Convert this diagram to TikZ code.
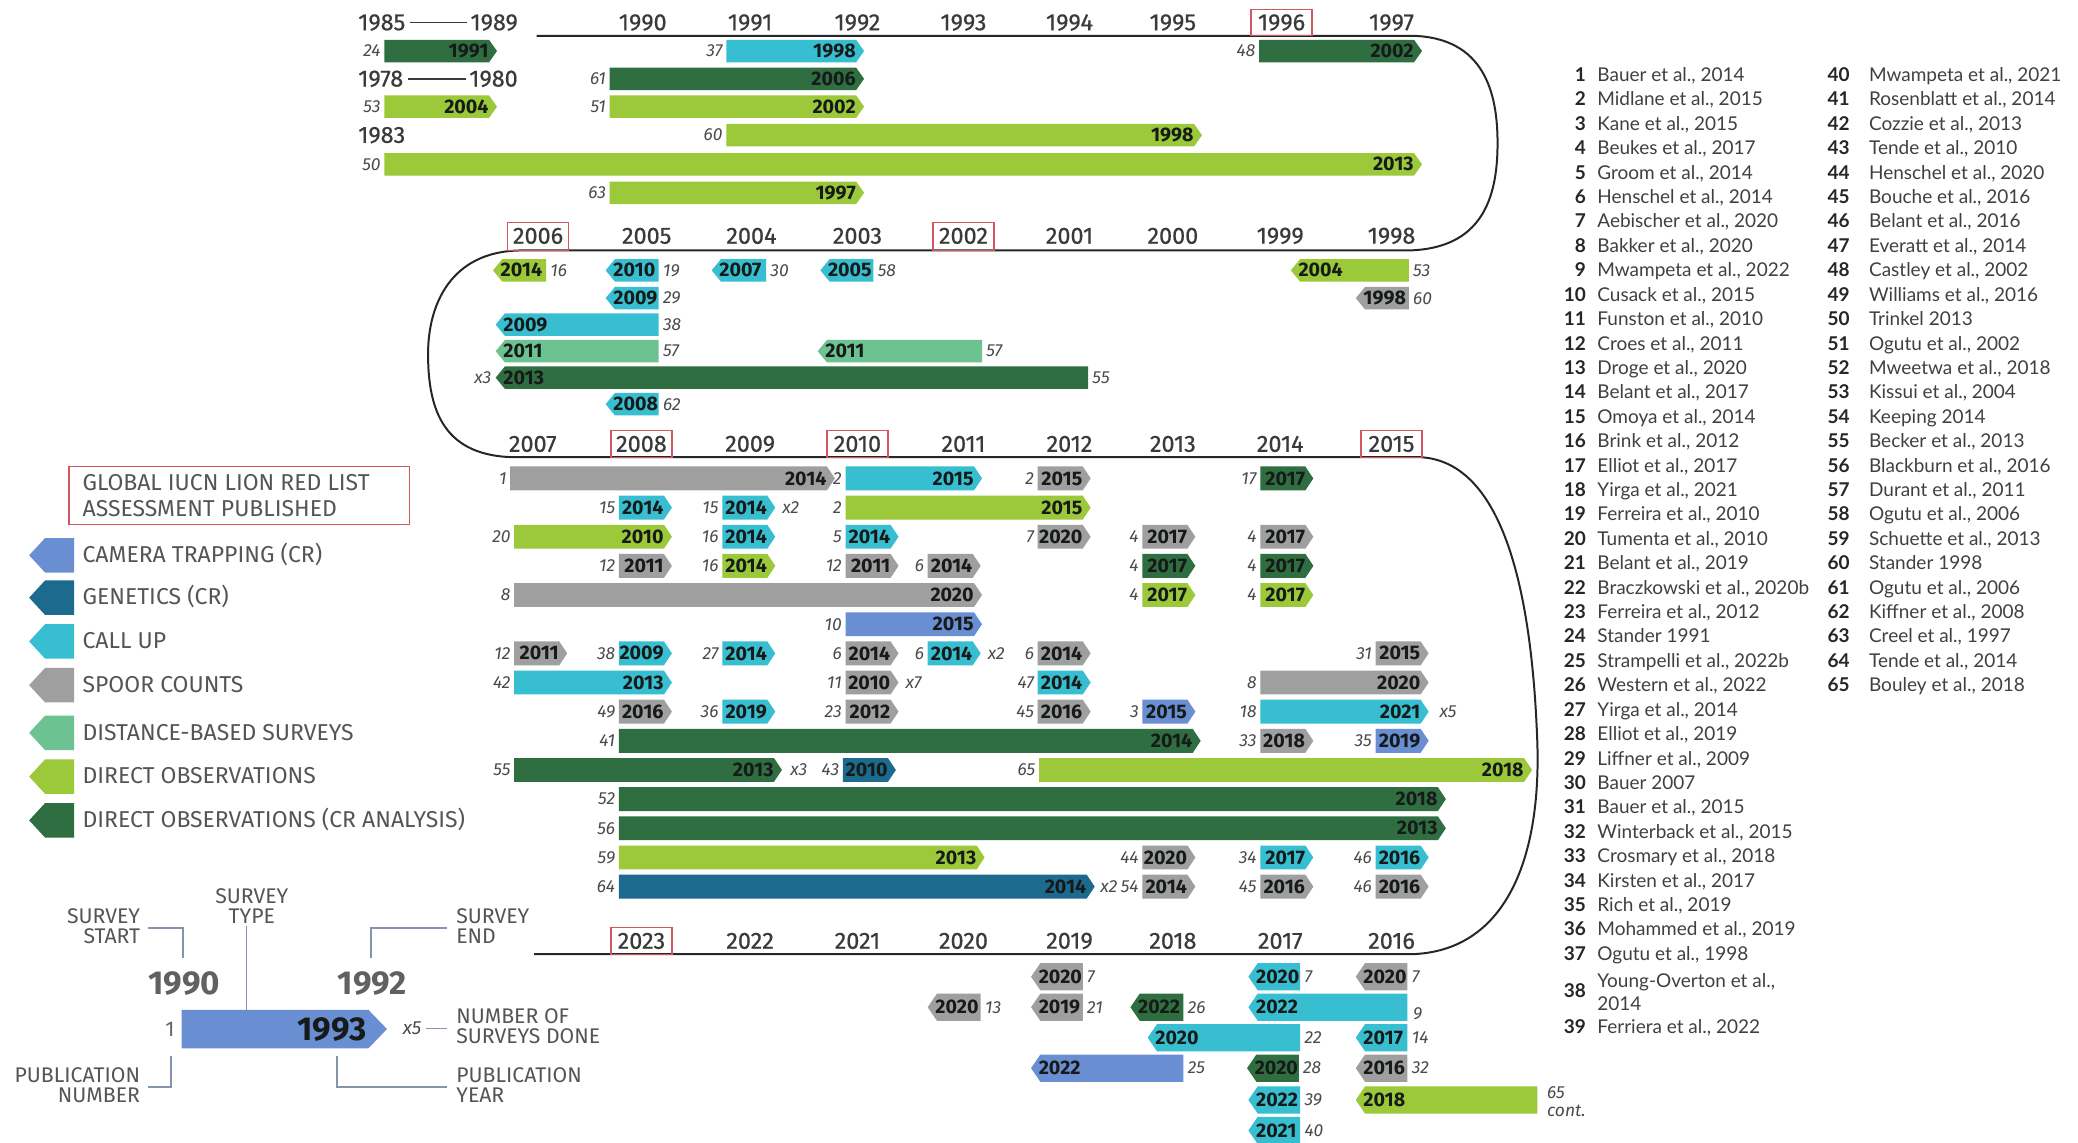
\documentclass[tikz,border=0pt]{standalone}
\usepackage{fontspec}
\setmainfont{Fira Sans}
\newfontfamily\axfont[FakeBold=0.6]{Fira Sans}
\newfontfamily\reffont{Lato}
\definecolor{camC}{HTML}{6A8ED2}
\definecolor{genC}{HTML}{1C6B8F}
\definecolor{callC}{HTML}{37BFD1}
\definecolor{spoorC}{HTML}{9F9F9F}
\definecolor{distC}{HTML}{6CC290}
\definecolor{dirC}{HTML}{9BC93A}
\definecolor{crC}{HTML}{2E6E40}
\definecolor{redC}{HTML}{D2555F}
\definecolor{axC}{HTML}{3A3A3A}
\definecolor{numC}{HTML}{4A4A4A}
\definecolor{legC}{HTML}{555555}
\definecolor{keyC}{HTML}{8494AD}
\definecolor{barT}{HTML}{161A18}
\newcounter{bc}
\def\bh{17}
\newcommand{\RB}[6]{%
  \stepcounter{bc}%
  \fill[#4] (#1,#3-\bh/2) -- (#2-6,#3-\bh/2) -- (#2,#3) -- (#2-6,#3+\bh/2) -- (#1,#3+\bh/2) -- cycle;
  \node[yr,anchor=east] (by\thebc) at (#2-6,#3) {#5};
  \node[num,anchor=east] (bn\thebc) at (#1-2.5,#3) {#6};
}
\newcommand{\LB}[6]{%
  \stepcounter{bc}%
  \fill[#4] (#1,#3) -- (#1+7,#3-\bh/2) -- (#2,#3-\bh/2) -- (#2,#3+\bh/2) -- (#1+7,#3+\bh/2) -- cycle;
  \node[yr,anchor=west] (by\thebc) at (#1+5.5,#3) {#5};
  \node[num,anchor=west] (bn\thebc) at (#2+3,#3) {#6};
}
\newcommand{\RF}[5]{%
  \pgfmathsetmacro{\ry}{57+#3*18.42+4.5}%
  \node[refn] (rn#4) at (#1,\ry) {#4};
  \node[reft] (rt#4) at (#2,\ry) {#5};
}
\tikzset{
 ax/.style={font=\axfont\fontsize{10.6pt}{11pt}\selectfont, text=axC, inner sep=0pt},
 yr/.style={font=\bfseries\fontsize{8.9pt}{9pt}\selectfont, text=barT, inner sep=0pt},
 num/.style={font=\itshape\fontsize{7.9pt}{9pt}\selectfont, text=numC, inner sep=0pt},
 leg/.style={font=\fontsize{10.4pt}{11pt}\selectfont, text=legC, inner sep=0pt, anchor=base west},
 keyt/.style={font=\fontsize{9.6pt}{9pt}\selectfont, text=legC, inner sep=0pt},
 keybig/.style={font=\bfseries\fontsize{15pt}{16pt}\selectfont, inner sep=0pt},
 refn/.style={font=\reffont\bfseries\fontsize{8.6pt}{9pt}\selectfont, text=black!85, inner sep=0pt, anchor=base east},
 reft/.style={font=\reffont\fontsize{8.6pt}{9pt}\selectfont, text=black!75, inner sep=0pt, anchor=base west},
 axisline/.style={line width=0.9pt, black!85},
 redbox/.style={draw=redC, line width=0.6pt},
 keyline/.style={draw=keyC, line width=0.8pt},
}
\begin{document}
\begin{tikzpicture}[x=0.6pt,y=-0.6pt]
\fill[white] (0,0) rectangle (1568,862);
\useasboundingbox (0,0) rectangle (1568,862);

% ---------- snake axis ----------
\draw[axisline] (405,27) -- (1065,27) .. controls (1120,28) and (1130,70) .. (1130,108)
  .. controls (1130,150) and (1118,188) .. (1062,189) -- (392,189)
  .. controls (340,190) and (323,230) .. (323,267) .. controls (323,310) and (335,345) .. (390,345)
  -- (1072,345) .. controls (1125,348) and (1155,420) .. (1160,560)
  .. controls (1163,650) and (1135,718) .. (1065,720) -- (403,720);

% ---------- axis years ----------
\foreach \yy/\xx in {1990/485,1991/566,1992/647,1993/727,1994/807,1995/885,1996/967,1997/1050}
  \node[ax] (a\yy) at (\xx,17) {\yy};
\foreach \yy/\xx in {2006/406,2005/488,2004/567,2003/647,2002/727,2001/807,2000/885,1999/966,1998/1050}
  \node[ax] (a\yy) at (\xx,178) {\yy};
\foreach \yy/\xx in {2007/402,2008/484,2009/566,2010/647,2011/727,2012/807,2013/885,2014/966,2015/1050}
  \node[ax] (a\yy) at (\xx,335) {\yy};
\foreach \yy/\xx in {2023/484,2022/566,2021/647,2020/727,2019/807,2018/885,2017/966,2016/1050}
  \node[ax] (a\yy) at (\xx,710) {\yy};
% red boxes (IUCN assessments)
\draw[redbox] (944,7) rectangle (990,27);
\draw[redbox] (383,168) rectangle (429,189);
\draw[redbox] (704,168) rectangle (750,189);
\draw[redbox] (461,325) rectangle (507,345);
\draw[redbox] (624,325) rectangle (670,345);
\draw[redbox] (1027,325) rectangle (1073,345);
\draw[redbox] (461,700) rectangle (507,720);

% left early years
\node[ax,anchor=west] (a1985) at (270,17) {1985};
\node[ax,anchor=east] (a1989) at (391,17) {1989};
\draw[line width=0.8pt, axC] ([xshift=2pt]a1985.east) -- ([xshift=-1.5pt]a1989.west);
\node[ax,anchor=west] (a1978) at (270,59.5) {1978};
\node[ax,anchor=east] (a1980) at (391,59.5) {1980};
\draw[line width=0.8pt, axC] ([xshift=2pt]a1978.east) -- ([xshift=-1.5pt]a1980.west);
\node[ax,anchor=west] (a1983) at (270,102) {1983};

% ---------- band 1 ----------
\def\bh{17}
\RB{290}{375}{38.5}{crC}{1991}{24}
\RB{548}{652}{38.5}{callC}{1998}{37}
\RB{950}{1073}{38.5}{crC}{2002}{48}
\RB{460}{652}{59.5}{crC}{2006}{61}
\RB{290}{375}{80.5}{dirC}{2004}{53}
\RB{460}{652}{80.5}{dirC}{2002}{51}
\RB{548}{907}{102}{dirC}{1998}{60}
\RB{290}{1073}{124}{dirC}{2013}{50}
\RB{460}{652}{145.5}{dirC}{1997}{63}

% ---------- band 2 ----------
\def\bh{17}
\LB{372}{412}{204}{dirC}{2014}{16}
\LB{457}{497}{204}{callC}{2010}{19}
\LB{537}{578}{204}{callC}{2007}{30}
\LB{619}{659}{204}{callC}{2005}{58}
\LB{974}{1063}{204}{dirC}{2004}{53}
\LB{457}{497}{225}{callC}{2009}{29}
\LB{1023}{1063}{225}{spoorC}{1998}{60}
\LB{374}{497}{245}{callC}{2009}{38}
\LB{374}{497}{265}{distC}{2011}{57}
\LB{617}{741}{265}{distC}{2011}{57}
\LB{374}{821}{285}{crC}{2013}{55}
\node[num,anchor=east] (x3a) at (371,285) {x3};
\LB{457}{497}{305}{callC}{2008}{62}

% ---------- band 3 ----------
\def\bh{18}
\RB{385}{630}{361}{spoorC}{2014}{1}
\RB{638}{741}{361}{callC}{2015}{2}
\RB{783}{823}{361}{spoorC}{2015}{2}
\RB{951}{991}{361}{crC}{2017}{17}
\RB{467}{507}{383}{callC}{2014}{15}
\RB{545}{585}{383}{callC}{2014}{15}
\node[num,anchor=west] (x2a) at (590,383) {x2};
\RB{638}{823}{383}{dirC}{2015}{2}
\RB{388}{507}{405}{dirC}{2010}{20}
\RB{545}{585}{405}{callC}{2014}{16}
\RB{638}{678}{405}{callC}{2014}{5}
\RB{783}{823}{405}{spoorC}{2020}{7}
\RB{862}{902}{405}{spoorC}{2017}{4}
\RB{951}{991}{405}{spoorC}{2017}{4}
\RB{467}{507}{427}{spoorC}{2011}{12}
\RB{545}{585}{427}{dirC}{2014}{16}
\RB{638}{678}{427}{spoorC}{2011}{12}
\RB{700}{740}{427}{spoorC}{2014}{6}
\RB{862}{902}{427}{crC}{2017}{4}
\RB{951}{991}{427}{crC}{2017}{4}
\RB{388}{741}{449}{spoorC}{2020}{8}
\RB{862}{902}{449}{dirC}{2017}{4}
\RB{951}{991}{449}{dirC}{2017}{4}
\RB{638}{741}{471}{camC}{2015}{10}
\RB{388}{428}{493}{spoorC}{2011}{12}
\RB{467}{507}{493}{callC}{2009}{38}
\RB{545}{585}{493}{callC}{2014}{27}
\RB{638}{678}{493}{spoorC}{2014}{6}
\RB{700}{740}{493}{callC}{2014}{6}
\node[num,anchor=west] (x2b) at (745,493) {x2};
\RB{783}{823}{493}{spoorC}{2014}{6}
\RB{1038}{1078}{493}{spoorC}{2015}{31}
\RB{388}{507}{515}{callC}{2013}{42}
\RB{638}{678}{515}{spoorC}{2010}{11}
\node[num,anchor=west] (x7a) at (683,515) {x7};
\RB{783}{823}{515}{callC}{2014}{47}
\RB{951}{1078}{515}{spoorC}{2020}{8}
\RB{467}{507}{537}{spoorC}{2016}{49}
\RB{545}{585}{537}{callC}{2019}{36}
\RB{638}{678}{537}{spoorC}{2012}{23}
\RB{783}{823}{537}{spoorC}{2016}{45}
\RB{862}{902}{537}{camC}{2015}{3}
\RB{951}{1078}{537}{callC}{2021}{18}
\node[num,anchor=west] (x5a) at (1086,537) {x5};
\RB{467}{906}{559}{crC}{2014}{41}
\RB{951}{991}{559}{spoorC}{2018}{33}
\RB{1038}{1078}{559}{camC}{2019}{35}
\RB{388}{590}{581}{crC}{2013}{55}
\node[num,anchor=west] (x3b) at (596,581) {x3};
\RB{636}{676}{581}{genC}{2010}{43}
\RB{784}{1156}{581}{dirC}{2018}{65}
\RB{467}{1091}{603}{crC}{2018}{52}
\RB{467}{1091}{625}{crC}{2013}{56}
\RB{467}{743}{647}{dirC}{2013}{59}
\RB{862}{902}{647}{spoorC}{2020}{44}
\RB{951}{991}{647}{callC}{2017}{34}
\RB{1038}{1078}{647}{callC}{2016}{46}
\RB{467}{826}{669}{genC}{2014}{64}
\node[num,anchor=west] (x2c) at (830,669) {x2};
\RB{862}{902}{669}{spoorC}{2014}{54}
\RB{951}{991}{669}{spoorC}{2016}{45}
\RB{1038}{1078}{669}{spoorC}{2016}{46}

% ---------- band 4 ----------
\def\bh{20.5}
\LB{778}{817}{737}{spoorC}{2020}{7}
\LB{942}{981}{737}{callC}{2020}{7}
\LB{1023}{1062}{737}{spoorC}{2020}{7}
\LB{700}{740}{760}{spoorC}{2020}{13}
\LB{778}{817}{760}{spoorC}{2019}{21}
\LB{853}{893}{760}{crC}{2022}{26}
\LB{942}{1062}{760}{callC}{2022}{}
\node[num,anchor=west] (n9) at (1066,765) {9};
\LB{866}{981}{783}{callC}{2020}{22}
\LB{1023}{1062}{783}{callC}{2017}{14}
\LB{778}{893}{806}{camC}{2022}{25}
\LB{941}{980}{806}{crC}{2020}{28}
\LB{1023}{1062}{806}{spoorC}{2016}{32}
\LB{942}{981}{830}{callC}{2022}{39}
\LB{1023}{1160}{830}{dirC}{2018}{}
\node[num,anchor=west,align=left,font=\itshape\fontsize{7.9pt}{8.2pt}\selectfont] (n65c) at (1167,831) {65\\cont.};
\LB{942}{981}{853}{callC}{2021}{40}

% ---------- legend ----------
\draw[redbox] (52,352) rectangle (309,396);
\node[leg] (lg0) at (62,370) {GLOBAL IUCN LION RED LIST};
\node[leg] (lg00) at (62,390) {ASSESSMENT PUBLISHED};
\foreach \yy/\cc/\tt [count=\i] in {419/camC/CAMERA TRAPPING (CR), 451/genC/GENETICS (CR), 484/callC/CALL UP, 517/spoorC/SPOOR COUNTS, 553/distC/DISTANCE-BASED SURVEYS, 586/dirC/DIRECT OBSERVATIONS, 619/crC/DIRECT OBSERVATIONS (CR ANALYSIS)}{
  \fill[\cc] (22,\yy) -- (34,\yy-13) -- (56,\yy-13) -- (56,\yy+13) -- (34,\yy+13) -- cycle;
  \node[leg] (lg\i) at (62,\yy+5.5) {\tt};
}

% ---------- key ----------
\node[keyt,align=right,anchor=east] (kss) at (106,699) {SURVEY\\START};
\node[keyt,align=center] (kst) at (190,684) {SURVEY\\TYPE};
\node[keyt,align=left,anchor=west] (kse) at (344,699) {SURVEY\\END};
\node[keyt,align=left,anchor=west] (kno) at (344,774) {NUMBER OF\\SURVEYS DONE};
\node[keyt,align=right,anchor=east] (kpn) at (106,819) {PUBLICATION\\NUMBER};
\node[keyt,align=left,anchor=west] (kpy) at (344,819) {PUBLICATION\\YEAR};
\node[keybig,text=black!62] (k1990) at (139,742) {1990};
\node[keybig,text=black!62] (k1992) at (281,742) {1992};
\fill[camC] (137,762) -- (278,762) -- (292,776.5) -- (278,791) -- (137,791) -- cycle;
\node[keybig,text=barT,anchor=east] (k1993) at (277,777) {1993};
\node[keyt,anchor=east,text=black!60] (k1) at (132,777) {1};
\node[num,font=\itshape\fontsize{8.6pt}{9pt}\selectfont] (kx5) at (311,776) {x5};
\coordinate (kbt) at (186,762);
\draw[keyline] (112,700) -- (138,700) -- (138,723);
\draw[keyline] (186,699) -- (kbt);
\draw[keyline] (337,700) -- (280,700) -- (280,723);
\draw[keyline] (kx5.east) ++(3,0) -- (337,776);
\draw[keyline] (112,820) -- (129,820) -- (129,797);
\draw[keyline] (254,797) -- (254,820) -- (337,820);

% ---------- references ----------
\RF{1197}{1205}{0}{1}{Bauer et al., 2014}
\RF{1197}{1205}{1}{2}{Midlane et al., 2015}
\RF{1197}{1205}{2}{3}{Kane et al., 2015}
\RF{1197}{1205}{3}{4}{Beukes et al., 2017}
\RF{1197}{1205}{4}{5}{Groom et al., 2014}
\RF{1197}{1205}{5}{6}{Henschel et al., 2014}
\RF{1197}{1205}{6}{7}{Aebischer et al., 2020}
\RF{1197}{1205}{7}{8}{Bakker et al., 2020}
\RF{1197}{1205}{8}{9}{Mwampeta et al., 2022}
\RF{1197}{1205}{9}{10}{Cusack et al., 2015}
\RF{1197}{1205}{10}{11}{Funston et al., 2010}
\RF{1197}{1205}{11}{12}{Croes et al., 2011}
\RF{1197}{1205}{12}{13}{Droge et al., 2020}
\RF{1197}{1205}{13}{14}{Belant et al., 2017}
\RF{1197}{1205}{14}{15}{Omoya et al., 2014}
\RF{1197}{1205}{15}{16}{Brink et al., 2012}
\RF{1197}{1205}{16}{17}{Elliot et al., 2017}
\RF{1197}{1205}{17}{18}{Yirga et al., 2021}
\RF{1197}{1205}{18}{19}{Ferreira et al., 2010}
\RF{1197}{1205}{19}{20}{Tumenta et al., 2010}
\RF{1197}{1205}{20}{21}{Belant et al., 2019}
\RF{1197}{1205}{21}{22}{Braczkowski et al., 2020b}
\RF{1197}{1205}{22}{23}{Ferreira et al., 2012}
\RF{1197}{1205}{23}{24}{Stander 1991}
\RF{1197}{1205}{24}{25}{Strampelli et al., 2022b}
\RF{1197}{1205}{25}{26}{Western et al., 2022}
\RF{1197}{1205}{26}{27}{Yirga et al., 2014}
\RF{1197}{1205}{27}{28}{Elliot et al., 2019}
\RF{1197}{1205}{28}{29}{Liffner et al., 2009}
\RF{1197}{1205}{29}{30}{Bauer 2007}
\RF{1197}{1205}{30}{31}{Bauer et al., 2015}
\RF{1197}{1205}{31}{32}{Winterback et al., 2015}
\RF{1197}{1205}{32}{33}{Crosmary et al., 2018}
\RF{1197}{1205}{33}{34}{Kirsten et al., 2017}
\RF{1197}{1205}{34}{35}{Rich et al., 2019}
\RF{1197}{1205}{35}{36}{Mohammed et al., 2019}
\RF{1197}{1205}{36}{37}{Ogutu et al., 1998}
\node[refn] (rn38) at (1197,752.5) {38};
\node[reft,anchor=west,align=left,font=\reffont\fontsize{8.6pt}{10.2pt}\selectfont] (rt38) at (1205,748.5) {Young-Overton et al.,\\2014};
\RF{1197}{1205}{38.98}{39}{Ferriera et al., 2022}
\RF{1396}{1410}{0}{40}{Mwampeta et al., 2021}
\RF{1396}{1410}{1}{41}{Rosenblatt et al., 2014}
\RF{1396}{1410}{2}{42}{Cozzie et al., 2013}
\RF{1396}{1410}{3}{43}{Tende et al., 2010}
\RF{1396}{1410}{4}{44}{Henschel et al., 2020}
\RF{1396}{1410}{5}{45}{Bouche et al., 2016}
\RF{1396}{1410}{6}{46}{Belant et al., 2016}
\RF{1396}{1410}{7}{47}{Everatt et al., 2014}
\RF{1396}{1410}{8}{48}{Castley et al., 2002}
\RF{1396}{1410}{9}{49}{Williams et al., 2016}
\RF{1396}{1410}{10}{50}{Trinkel 2013}
\RF{1396}{1410}{11}{51}{Ogutu et al., 2002}
\RF{1396}{1410}{12}{52}{Mweetwa et al., 2018}
\RF{1396}{1410}{13}{53}{Kissui et al., 2004}
\RF{1396}{1410}{14}{54}{Keeping 2014}
\RF{1396}{1410}{15}{55}{Becker et al., 2013}
\RF{1396}{1410}{16}{56}{Blackburn et al., 2016}
\RF{1396}{1410}{17}{57}{Durant et al., 2011}
\RF{1396}{1410}{18}{58}{Ogutu et al., 2006}
\RF{1396}{1410}{19}{59}{Schuette et al., 2013}
\RF{1396}{1410}{20}{60}{Stander 1998}
\RF{1396}{1410}{21}{61}{Ogutu et al., 2006}
\RF{1396}{1410}{22}{62}{Kiffner et al., 2008}
\RF{1396}{1410}{23}{63}{Creel et al., 1997}
\RF{1396}{1410}{24}{64}{Tende et al., 2014}
\RF{1396}{1410}{25}{65}{Bouley et al., 2018}
\end{tikzpicture}
\end{document}
